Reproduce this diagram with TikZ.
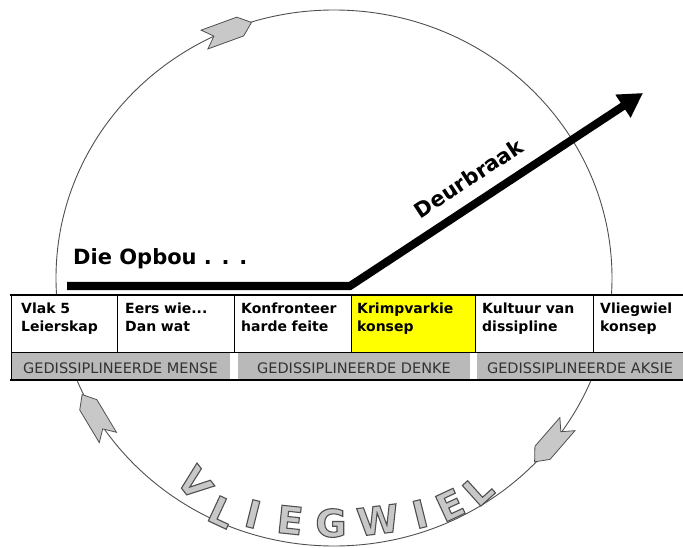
\documentclass[tikz,border=0pt]{standalone}
\usepackage{fontspec}
\setmainfont{DejaVu Sans}
\usetikzlibrary{arrows.meta}
\definecolor{ringline}{RGB}{80,80,80}
\definecolor{ltfill}{RGB}{200,200,200}
\definecolor{rowgray}{RGB}{185,185,185}
\definecolor{rowtext}{RGB}{50,50,50}
\definecolor{hl}{RGB}{255,255,0}
\newcommand{\outlinechar}[1]{{\color{ltfill}\special{pdf:literal direct 2 Tr 1.1 w 0.31 0.31 0.31 RG}#1\special{pdf:literal direct 0 Tr}}}
\tikzset{
  ring/.style={draw=ringline, line width=0.9pt},
  flowarrow/.style={draw=ringline, fill=ltfill, line width=0.8pt, line join=miter},
  pics/flowarr/.style={code={\draw[flowarrow] (25,0) -- (13,-10) -- (-25,-10) -- (-15,0) -- (-25,10) -- (13,10) -- cycle;}},
  cell/.style={draw=black, line width=0.8pt},
  celltext/.style={anchor=base west, inner sep=0pt, text width=100pt, align=left, font=\fontsize{14}{18}\selectfont\bfseries},
  band/.style={fill=rowgray, draw=none},
  bandtext/.style={anchor=base, inner sep=0pt, text=rowtext, font=\fontsize{14.5}{17}\selectfont},
  bigtext/.style={inner sep=0pt, font=\fontsize{21}{26}\selectfont\bfseries},
  letter/.style={inner sep=0pt, anchor=center, font=\fontsize{38}{40}\selectfont\bfseries},
}
\begin{document}
\begin{tikzpicture}[x=1pt,y=-1pt]
\useasboundingbox (0,0) rectangle (683,548);
\fill[white] (0,0) rectangle (683,548);
% ring
\draw[ring] (334,278) ellipse [x radius=278, y radius=268];
\pic[rotate=20] at (228,31) {flowarr};
\pic[rotate=121] at (95,416) {flowarr};
\pic[rotate=229] at (551,443) {flowarr};
% table row 1
\fill[white] (11,295) rectangle (690,380);
\fill[hl] (351,295) rectangle (475,352);
\draw[cell] (11,295) rectangle (117,352);
\draw[cell] (117,295) rectangle (234,352);
\draw[cell] (234,295) rectangle (351,352);
\draw[cell] (351,295) rectangle (475,352);
\draw[cell] (475,295) rectangle (593,352);
\draw[cell] (593,295) rectangle (690,352);
% band row
\fill[band] (11,352) rectangle (230,379);
\fill[band] (238,352) rectangle (470,379);
\fill[band] (477,352) rectangle (690,379);
\draw[cell] (11,352) -- (11,380);
\draw[line width=1.6pt] (10.2,295) -- (690,295);
\draw[line width=1.6pt] (10.2,380) -- (690,380);
\draw[cell] (11,352) -- (690,352);
\node[celltext] (c1) at (21,313) {Vlak 5\\Leierskap};
\node[celltext] (c2) at (125,313) {Eers wie...\\Dan wat};
\node[celltext] (c3) at (241,313) {Konfronteer\\harde feite};
\node[celltext] (c4) at (357,313) {Krimpvarkie\\konsep};
\node[celltext] (c5) at (482,313) {Kultuur van\\dissipline};
\node[celltext] (c6) at (600,313) {Vliegwiel\\konsep};
\node[bandtext] (b1) at (120.5,373.5) {GEDISSIPLINEERDE MENSE};
\node[bandtext] (b2) at (354,373.5) {GEDISSIPLINEERDE DENKE};
\node[bandtext] (b3) at (580,373.5) {GEDISSIPLINEERDE AKSIE};
% build-up / breakthrough line
\coordinate (ostart) at (67,286);
\coordinate (bend) at (350,286);
\coordinate (tip) at (643,93);
\draw[line width=8pt, line join=miter, -{Triangle[length=24pt,width=26pt]}] (ostart) -- (bend) -- (tip);
\node[bigtext, anchor=base west] (opbou) at (73,265) {Die Opbou . . .};
\node[bigtext, anchor=base, rotate=33.4] (deur) at (473,185) {Deurbraak};
% VLIEGWIEL letters
\foreach \ch/\px/\py/\rot [count=\i] in {V/195/483/-52, L/222/512/-25, I/253/514/-14, E/290/520/-6, G/331/523/0, W/378/520/7, I/420/514/14, E/450/505/25, L/478/490/42}
  \node[letter, rotate=\rot] (let\i) at (\px,\py) {\outlinechar{\ch}};
\end{tikzpicture}
\end{document}
